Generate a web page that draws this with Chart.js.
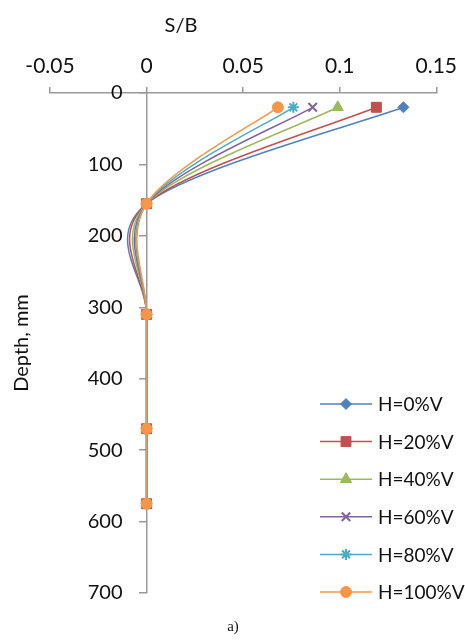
<!DOCTYPE html>
<html>
<head>
<meta charset="utf-8">
<script src="https://cdn.jsdelivr.net/npm/chart.js@4.4.0/dist/chart.umd.min.js"></script>
<style>
  html, body { margin: 0; padding: 0; background: #fff; }
  canvas { display: block; }
</style>
</head>
<body>
<canvas id="depth" width="465" height="640"></canvas>
<script>
// depth of each reading, mm
var depths = [20, 155, 310, 470, 575];

// S/B at each depth, one list per load case
var sbH0 = [0.133, 0, 0, 0, 0];
var sbH20 = [0.119, 0, 0, 0, 0];
var sbH40 = [0.099, 0, 0, 0, 0];
var sbH60 = [0.086, 0, 0, 0, 0];
var sbH80 = [0.076, 0, 0, 0, 0];
var sbH100 = [0.068, 0, 0, 0, 0];

var seriesNames = ["H=0%V", "H=20%V", "H=40%V", "H=60%V", "H=80%V", "H=100%V"];
var xTickLabels = ["-0.05", "0", "0.05", "0.1", "0.15"];
var yTickLabels = ["0", "100", "200", "300", "400", "500", "600", "700"];

var colors = ["#4F81BD", "#C0504D", "#9BBB59", "#8064A2", "#4BACC6", "#F79646"];
var markers = ["rectRot", "rect", "triangle", "crossRot", "star", "circle"];
var markerSize = [5.5, 7, 6.5, 6, 5.5, 5.5];

var FONT = "Lato";
var axisGrey = "#9a9a9a";

function toPoints(vals) {
    return depths.map(function(d, i) { return {x: vals[i], y: d}; });
}

function makeSet(i, vals) {
    return {
        label: seriesNames[i],
        data: toPoints(vals),
        borderColor: colors[i],
        backgroundColor: colors[i],
        borderWidth: 1.5,
        showLine: true,
        tension: 0.4,
        pointStyle: markers[i],
        pointRadius: markerSize[i],
        pointHoverRadius: markerSize[i],
        pointBorderWidth: (markers[i] == "crossRot" || markers[i] == "star") ? 2 : 1,
        order: 6 - i
    };
}

// excel style smoothing: control arms are 1/6 of the neighbour chord
var smooth = {
    id: "smooth",
    beforeDatasetDraw: function(chart, args) {
        var line = args.meta.dataset;
        if (!line) return;
        line.updateControlPoints(chart.chartArea, "x");
        var pts = line.points;
        for (var i = 0; i < pts.length; i++) {
            var prev = pts[i - 1] || pts[i];
            var next = pts[i + 1] || pts[i];
            var dx = (next.x - prev.x) / 6;
            var dy = (next.y - prev.y) / 6;
            pts[i].cp1x = pts[i].x - dx;
            pts[i].cp1y = pts[i].y - dy;
            pts[i].cp2x = pts[i].x + dx;
            pts[i].cp2y = pts[i].y + dy;
        }
    }
};

// texts and the line+marker legend
var extras = {
    id: "extras",
    afterDraw: function(chart) {
        var ctx = chart.ctx;
        ctx.save();
        ctx.fillStyle = "#111";
        ctx.textBaseline = "middle";
        ctx.textAlign = "center";
        ctx.font = "20px " + FONT;
        ctx.fillText("S/B", 181, 26);

        ctx.save();
        ctx.translate(22, 343);
        ctx.rotate(-Math.PI / 2);
        ctx.fillText("Depth, mm", 0, 0);
        ctx.restore();

        ctx.font = "15px 'Liberation Serif'";
        ctx.fillText("a)", 233, 627);

        // legend
        ctx.font = "19px " + FONT;
        ctx.textAlign = "left";
        for (var i = 0; i < seriesNames.length; i++) {
            var y = 404 + i * 37.6;
            ctx.strokeStyle = colors[i];
            ctx.lineWidth = 1.5;
            ctx.beginPath();
            ctx.moveTo(320, y);
            ctx.lineTo(372, y);
            ctx.stroke();
            ctx.fillStyle = colors[i];
            ctx.lineWidth = (markers[i] == "crossRot" || markers[i] == "star") ? 2 : 1;
            Chart.helpers.drawPoint(ctx, {
                pointStyle: markers[i],
                radius: markerSize[i],
                rotation: 0,
                borderWidth: ctx.lineWidth
            }, 346, y);
            ctx.fillStyle = "#111";
            ctx.fillText(seriesNames[i], 378, y + 1);
        }
        ctx.restore();
    }
};

// y labels sit left of the axis that crosses at x = 0
function shiftLabels(s) {
    s.width = 0;
    if (s._shifted) return;
    var orig = s.drawLabels;
    s.drawLabels = function(area) {
        this.ctx.save();
        this.ctx.translate(-24, 0);
        orig.call(this, area);
        this.ctx.restore();
    };
    s._shifted = true;
}

window.onload = function() {
    var ctx = document.getElementById("depth").getContext("2d");
    var chart = new Chart(ctx, {
        type: "scatter",
        data: {
            datasets: [
                makeSet(0, sbH0),
                makeSet(1, sbH20),
                makeSet(2, sbH40),
                makeSet(3, sbH60),
                makeSet(4, sbH80),
                makeSet(5, sbH100)
            ]
        },
        options: {
            responsive: false,
            animation: false,
            layout: { padding: { left: 50, right: 28, top: 0, bottom: 47 } },
            plugins: {
                legend: { display: false },
                tooltip: { enabled: false }
            },
            scales: {
                x: {
                    type: "linear",
                    position: "top",
                    min: -0.05,
                    max: 0.15,
                    afterFit: function(s) { s.height = 93; },
                    ticks: {
                        stepSize: 0.05,
                        padding: 8,
                        color: "#111",
                        font: { family: FONT, size: 21 },
                        callback: function(v, i) { return xTickLabels[i]; }
                    },
                    grid: { drawOnChartArea: false, tickLength: 6, color: axisGrey, lineWidth: 1.5 },
                    border: { color: axisGrey, width: 1.5 }
                },
                y: {
                    type: "linear",
                    position: { x: 0 },
                    reverse: true,
                    min: 0,
                    max: 700,
                    afterFit: shiftLabels,
                    ticks: {
                        stepSize: 100,
                        color: "#111",
                        font: { family: FONT, size: 20 },
                        callback: function(v) { return yTickLabels[Math.round(v / 100)]; }
                    },
                    grid: { drawOnChartArea: false, tickLength: 7, color: axisGrey, lineWidth: 1.5 },
                    border: { color: axisGrey, width: 1.5 }
                }
            }
        },
        plugins: [smooth, extras]
    });
};
</script>
</body>
</html>
